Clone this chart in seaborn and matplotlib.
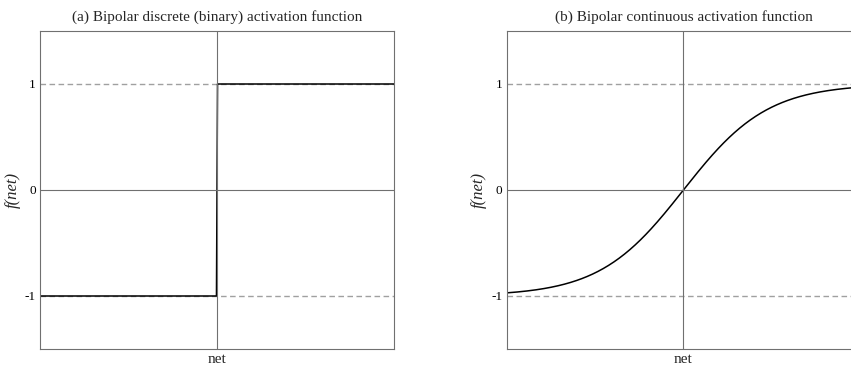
import numpy as np
import pandas as pd
import matplotlib
matplotlib.use("Agg")
import matplotlib.pyplot as plt
import seaborn as sns

# ---- data ----
titles = ["(a) Bipolar discrete (binary) activation function",
          "(b) Bipolar continuous activation function"]
y_ticks = [-1, 0, 1]
y_tick_labels = ["-1", "0", "1"]
net_range = [-5.0, 5.0]
step_net = [-5.0, -0.015, 0.015, 5.0]
step_f = [-1.0, -1.0, 1.0, 1.0]
lam = 0.84  # steepness of the bipolar continuous function

net_cont = np.linspace(net_range[0], net_range[1], 400)
f_cont = 2.0 / (1.0 + np.exp(-lam * net_cont)) - 1.0

df_step = pd.DataFrame({"net": step_net, "f": step_f})
df_cont = pd.DataFrame({"net": net_cont, "f": f_cont})

sns.set_theme(style="white")
plt.rcParams["font.family"] = ["Liberation Serif", "DejaVu Serif"]

W, H = 851, 367
fig = plt.figure(figsize=(W / 100, H / 100), dpi=100)
ax1 = fig.add_axes([40 / W, 18 / H, 354 / W, 318 / H])
ax2 = fig.add_axes([506.7 / W, 18 / H, 353.5 / W, 318 / H])

spine_col = "#707070"
for ax, df, title in [(ax1, df_step, titles[0]), (ax2, df_cont, titles[1])]:
    ax.axhline(1, color="#a0a0a0", lw=1.0, ls=(0, (4, 2.5)), zorder=1)
    ax.axhline(-1, color="#a0a0a0", lw=1.0, ls=(0, (4, 2.5)), zorder=1)
    sns.lineplot(data=df, x="net", y="f", ax=ax, color="black", lw=1.1,
                 sort=False, zorder=2)
    ax.axhline(0, color=spine_col, lw=0.8, zorder=3)
    ax.axvline(0, color=spine_col, lw=0.8, zorder=3)
    ax.set_xlim(net_range)
    ax.set_ylim(-1.5, 1.5)
    ax.set_xticks([])
    ax.set_yticks(y_ticks)
    ax.set_yticklabels(y_tick_labels)
    ax.tick_params(axis="y", length=0, pad=3, labelsize=9.5, colors="black")
    ax.set_xlabel("net", fontsize=11, labelpad=3)
    ax.set_ylabel("f(net)", fontsize=12, style="italic", labelpad=3)
    ax.set_title(title, fontsize=11, pad=7)
    for s in ax.spines.values():
        s.set_color(spine_col)
        s.set_linewidth(0.8)
        s.set_visible(True)

fig.savefig("out.png", dpi=100, facecolor="white")
